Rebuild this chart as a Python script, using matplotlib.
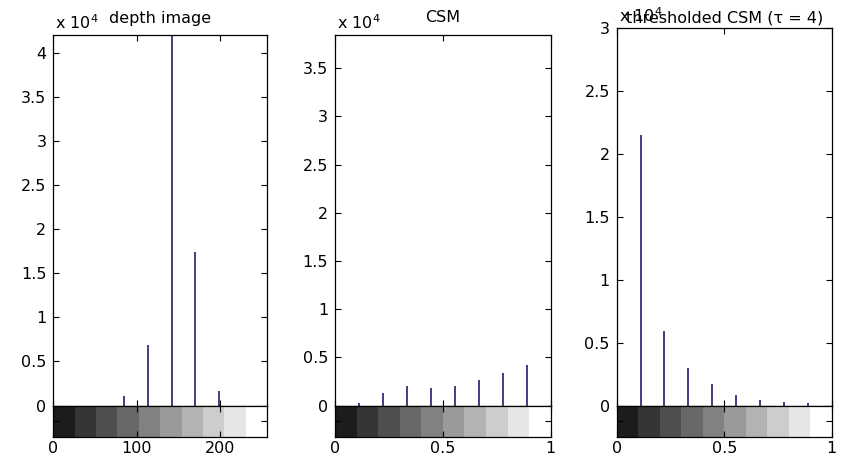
import matplotlib.pyplot as plt
import numpy as np

plt.rcParams['font.family'] = ['DejaVu Sans']
plt.rcParams['font.size'] = 11.5

# histogram bin centres (10 bins) and counts
depth_x = [0, 28.3, 56.7, 85, 113.3, 141.7, 170, 198.3, 226.7, 255]
depth_n = [0, 0, 0, 1060, 6900, 42000, 17350, 1630, 0, 0]

csm_x = [0, 1/9, 2/9, 3/9, 4/9, 5/9, 6/9, 7/9, 8/9, 1]
csm_n = [0, 240, 1350, 2070, 1830, 2070, 2700, 3390, 4250, 0]

thr_x = [0, 1/9, 2/9, 3/9, 4/9, 5/9, 6/9, 7/9, 8/9, 1]
thr_n = [0, 21500, 5960, 3000, 1690, 850, 450, 270, 190, 0]

titles = ['depth image', 'CSM', 'thresholded CSM (\u03c4 = 4)']
xmax = [256, 1, 1]
ytop = [42000, 38450, 30000]
xticks = [[0, 100, 200], [0, 0.5, 1], [0, 0.5, 1]]
xticklabels = [['0', '100', '200'], ['0', '0.5', '1'], ['0', '0.5', '1']]
yticks = [np.arange(0, 4.01, 0.5), np.arange(0, 3.51, 0.5), np.arange(0, 3.01, 0.5)]

W, H = 849, 459
fig = plt.figure(figsize=(W/100, H/100), dpi=100)

# pixel boxes: left, right, top, zero line, strip bottom
boxes = [(53.3, 267, 35, 405.5, 436.7),
         (335, 550.7, 35, 405.7, 436.7),
         (616.7, 831.7, 28.3, 405.7, 436.7)]

data = [(depth_x, depth_n), (csm_x, csm_n), (thr_x, thr_n)]
grays = np.linspace(0.11, 1.0, 10)
stem_col = '#2f2f7c'

for i in range(3):
    l, r, t, z, b = boxes[i]
    ax = fig.add_axes([l/W, 1 - z/H, (r-l)/W, (z-t)/H])
    xs, ns = data[i]
    ax.vlines(xs, 0, ns, color=stem_col, lw=1.3)
    ax.set_xlim(0, xmax[i])
    ax.set_ylim(0, ytop[i])
    ax.set_yticks(yticks[i] * 1e4)
    ax.set_yticklabels(['%g' % v for v in yticks[i]])
    ax.set_xticks(xticks[i])
    ax.set_xticklabels([])
    ax.tick_params(direction='in', top=True, right=True, length=4, width=0.8, pad=5)
    for s in ax.spines.values():
        s.set_linewidth(0.9)
    ax.set_title(titles[i], fontsize=11.5, pad=9 if i < 2 else 4)
    ax.text(0.01, 1.0 + (3/(z-t)), r'x 10$^4$', transform=ax.transAxes,
            ha='left', va='bottom', fontsize=11.5)

    # grey-level strip under the histogram
    sx = fig.add_axes([l/W, 1 - b/H, (r-l)/W, (b-z)/H])
    edges = np.linspace(0, xmax[i], 11)
    for k in range(10):
        sx.axvspan(edges[k], edges[k+1], color=str(grays[k]), lw=0)
    sx.set_xlim(0, xmax[i])
    sx.set_ylim(0, 1)
    sx.set_xticks(xticks[i])
    sx.set_xticklabels(xticklabels[i])
    sx.set_yticks([0.5])
    sx.set_yticklabels([])
    sx.tick_params(direction='in', top=True, right=True, length=4, width=0.8, pad=3)
    for s in sx.spines.values():
        s.set_linewidth(0.9)

fig.savefig('out.png', dpi=100)
